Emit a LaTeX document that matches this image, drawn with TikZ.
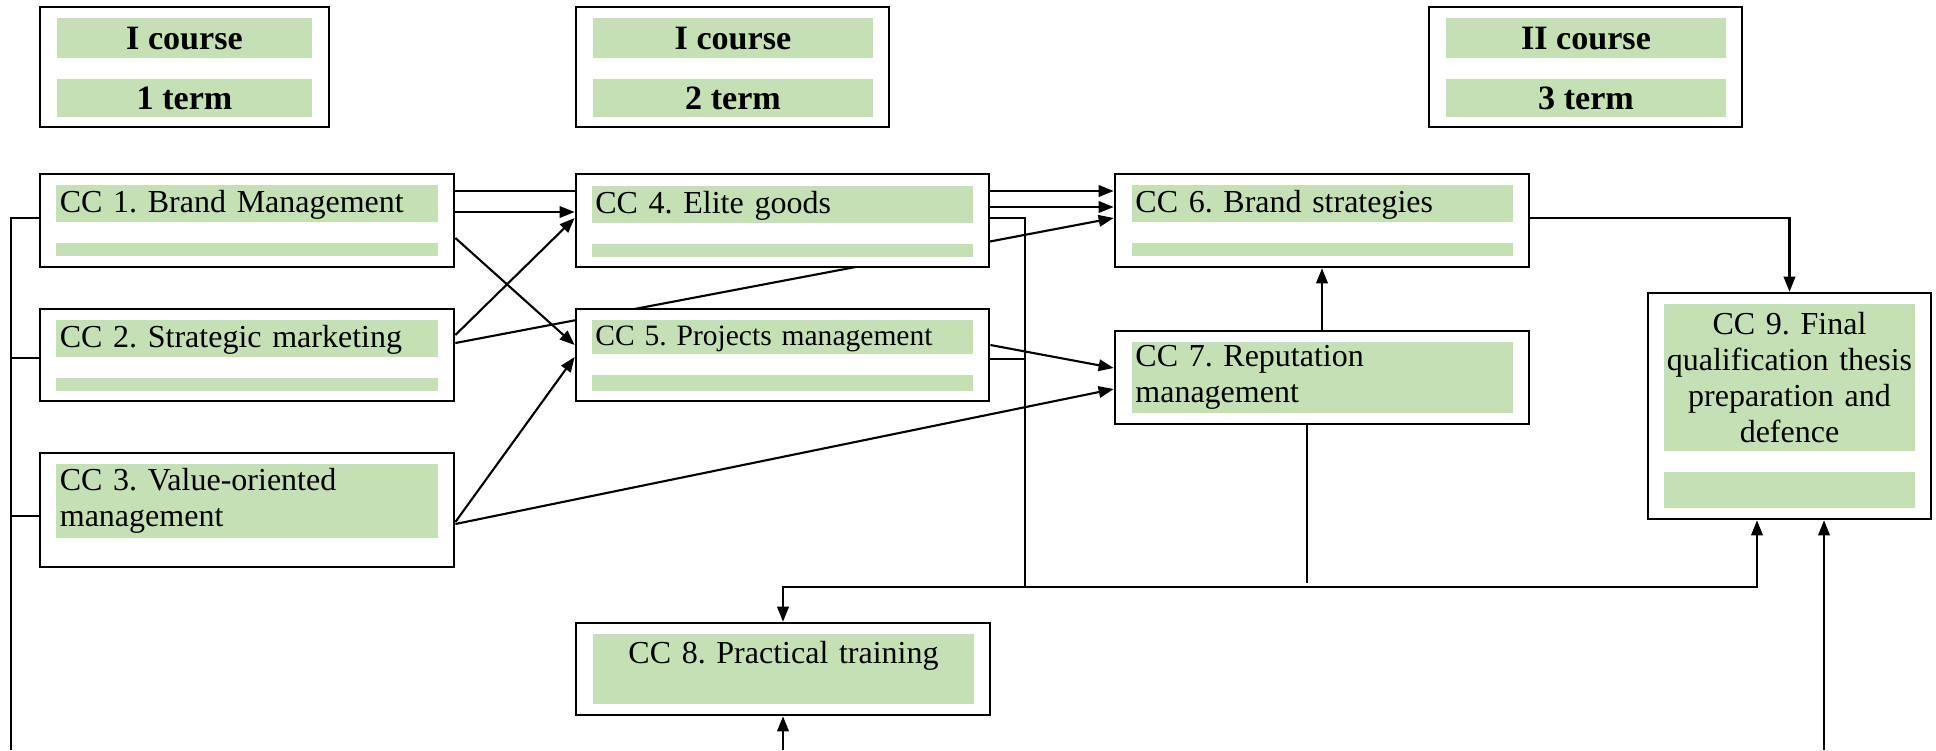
\documentclass[tikz,border=0pt]{standalone}
\usepackage{fontspec}
\setmainfont{Liberation Serif}
\usetikzlibrary{arrows.meta}
\definecolor{ccgreen}{RGB}{197,224,180}
\pgfdeclarelayer{background}
\pgfsetlayers{background,main}
\frenchspacing
\begin{document}
\begin{tikzpicture}[
  x=0.01cm, y=0.01cm,
  box/.style={draw, fill=white, line width=0.7pt, inner sep=0pt},
  cbox/.style={box, minimum width=4.14cm, minimum height=0.93cm},
  head/.style={fill=ccgreen, inner sep=0pt, minimum width=2.80cm,
    font=\fontsize{9.7}{11}\selectfont\bfseries, text height=6.3pt, text depth=0pt},
  bar/.style={fill=ccgreen, inner sep=0pt, inner xsep=1pt, text width=3.74cm,
    align=left, font=\fontsize{9.1}{10.2}\selectfont},
  tbar/.style={bar, minimum height=0.37cm, text height=7pt, text depth=2pt},
  lbar/.style={fill=ccgreen, inner sep=0pt, minimum width=3.81cm, minimum height=0.13cm},
  link/.style={line width=0.6pt},
  thin/.style={line width=0.4pt},
  >={Triangle[length=1.5mm,width=1.15mm]}
]
  \useasboundingbox (0,0) rectangle (1936,750);

  % course / term headers
  \node[box, minimum width=2.89cm, minimum height=1.20cm] (h1) at (184.5,683) {};
  \node[head, minimum width=2.55cm, minimum height=0.40cm] (h1c) at (184.5,712) {I course};
  \node[head, minimum width=2.55cm, minimum height=0.38cm] (h1t) at (184.5,652) {1 term};
  \node[box, minimum width=3.13cm, minimum height=1.20cm] (h2) at (732.5,683) {};
  \node[head, minimum height=0.40cm] (h2c) at (733,712) {I course};
  \node[head, minimum height=0.38cm] (h2t) at (733,652) {2 term};
  \node[box, minimum width=3.13cm, minimum height=1.20cm] (h3) at (1585.5,683) {};
  \node[head, minimum height=0.40cm] (h3c) at (1586,712) {II course};
  \node[head, minimum height=0.38cm] (h3t) at (1586,652) {3 term};

  % disciplines
  \node[cbox] (cc1) at (247,529.5) {};
  \node[tbar] (cc1a) at (247,546.5) {CC 1. Brand Management};
  \node[lbar] (cc1b) at (247,500.5) {};
  \node[cbox, minimum height=0.92cm] (cc2) at (247,395) {};
  \node[tbar] (cc2a) at (247,411.5) {CC 2. Strategic marketing};
  \node[lbar] (cc2b) at (247,365.5) {};
  \node[cbox, minimum height=1.14cm] (cc3) at (247,240) {};
  \node[bar, minimum height=0.74cm] (cc3a) at (247,249) {CC 3. Value-oriented\\management};

  \node[cbox, minimum width=4.13cm] (cc4) at (782.5,529.5) {};
  \node[tbar] (cc4a) at (782.5,545.5) {CC 4. Elite goods};
  \node[lbar] (cc4b) at (782.5,499.5) {};
  \node[cbox, minimum width=4.13cm, minimum height=0.92cm] (cc5) at (782.5,395) {};
  \node[tbar, minimum height=0.34cm, font=\fontsize{8.4}{10}\selectfont] (cc5a) at (782.5,413) {CC 5. Projects management};
  \node[lbar, minimum height=0.16cm] (cc5b) at (782.5,367) {};

  \node[cbox] (cc6) at (1322,529.5) {};
  \node[tbar] (cc6a) at (1322.5,546.5) {CC 6. Brand strategies};
  \node[lbar] (cc6b) at (1322.5,500.5) {};
  \node[cbox] (cc7) at (1322,372.5) {};
  \node[bar, minimum height=0.71cm] (cc7a) at (1322.5,372.5) {CC 7. Reputation\\management};

  \node[box, minimum width=2.83cm, minimum height=2.26cm] (cc9) at (1789.5,344) {};
  \node[bar, inner xsep=0pt, text width=2.51cm, align=center, minimum height=1.47cm] (cc9a) at (1789.5,372.5) {CC 9. Final\\qualification thesis\\preparation and\\defence};
  \node[lbar, minimum width=2.51cm, minimum height=0.36cm] (cc9b) at (1789.5,260) {};

  \node[cbox, minimum height=0.92cm] (cc8) at (783,81) {};
  \node[tbar, align=center, minimum height=0.70cm, text depth=10.4pt] (cc8a) at (783.5,81) {CC 8. Practical training};

  % free ends and junctions
  \coordinate (lb) at (11,0);
  \coordinate (jn) at (1025,163);
  \coordinate (bus) at (1757,163);
  \coordinate (c7d) at (1307,167);
  \coordinate (b8) at (783,0);
  \coordinate (b9) at (1824,0);

  \begin{pgfonlayer}{background}
    \draw[link,->] (cc1.east |- 0,559) -- (cc6.west |- 0,559);
    \draw[link,->] (cc1.east |- 0,538) -- (cc4.west |- 0,538);
    \draw[link,->] (cc1.east |- 0,512) -- (cc5.west |- 0,405);
    \draw[link,->] (cc2.east |- 0,415) -- (cc4.west |- 0,532);
    \draw[link,->] (cc2.east |- 0,407) -- (cc6.west |- 0,532);
    \draw[link,->] (cc3.east |- 0,228) -- (cc5.west |- 0,393);
    \draw[link,->] (cc3.east |- 0,226) -- (cc7.west |- 0,361);
    \draw[link,->] (cc4.east |- 0,543) -- (cc6.west |- 0,543);
    \draw[link,->] (cc5.east |- 0,405) -- (cc7.west |- 0,382);
    \draw[link,->] (cc7.north) -- (cc6.south);
    \draw[link,->] (cc6.east |- 0,532) -| (cc9.north);

    \draw[thin] (cc4.east |- 0,532) -| (jn);
    \draw[thin] (cc5.east |- 0,391) -- (jn |- 0,391);
    \draw[thin] (cc7.south -| c7d) -- (c7d);
    \draw[link,<->] (cc8.north) |- (bus) -- (bus |- cc9.south);

    \draw[thin] (cc1.west |- 0,532) -| (lb);
    \draw[thin] (cc2.west |- 0,392) -- (lb |- 0,392);
    \draw[thin] (cc3.west |- 0,234) -- (lb |- 0,234);

    \draw[link,->] (b8) -- (cc8.south);
    \draw[link,->] (b9) -- (b9 |- cc9.south);
  \end{pgfonlayer}
\end{tikzpicture}
\end{document}
